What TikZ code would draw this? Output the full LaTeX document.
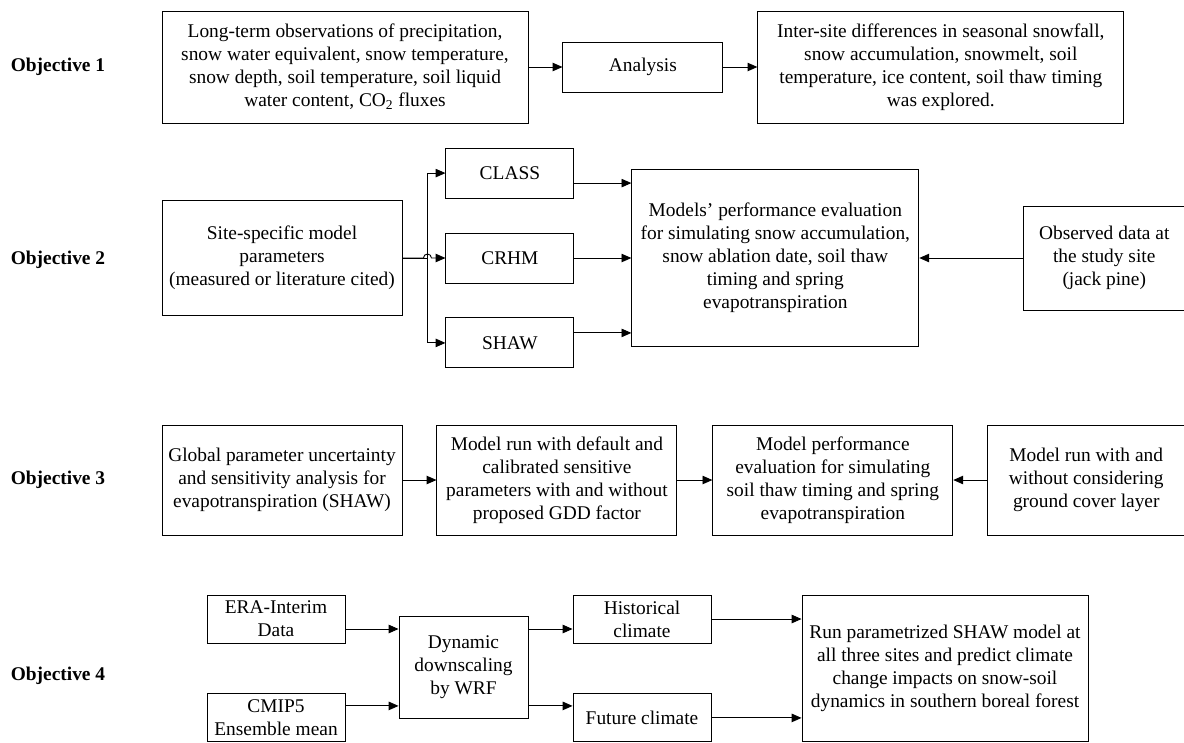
\documentclass[tikz,border=0pt]{standalone}
\usepackage{fontspec}
\setmainfont{Liberation Serif}
\usetikzlibrary{positioning,arrows.meta}

\begin{document}
\begin{tikzpicture}[box/.style = {draw, align=center, inner sep=0pt, line width=0.65pt}, lab/.style = {font=\fontsize{13.8}{16.4}\selectfont\bfseries}, arr/.style = {-{Triangle[length=7pt, width=6pt]}, line width=0.65pt}, node distance={8.5mm}, font=\fontsize{13.8}{16.4}\selectfont]
        \useasboundingbox (0,0) rectangle (29.6,-18.55);

        \node[lab] (o1) at (1.45,-1.675) {Objective 1};
        \node[box, minimum width=9.15cm, minimum height=2.8cm] (obs) at (8.625,-1.675) {Long-term observations of precipitation,\\snow water equivalent, snow temperature,\\snow depth, soil temperature, soil liquid\\water content, CO\textsubscript{2} fluxes};
        \node[box, minimum width=4cm, minimum height=1.25cm] (ana) [right=of obs] {Analysis};
        \node[box, minimum width=9.15cm, minimum height=2.8cm] (dif) [right=of ana] {Inter-site differences in seasonal snowfall,\\snow accumulation, snowmelt, soil\\temperature, ice content, soil thaw timing\\was explored.};

        \node[lab] (o2) at (1.45,-6.5) {Objective 2};
        \node[box, minimum width=6cm, minimum height=2.875cm] (site) at (7.05,-6.45) {Site-specific model\\parameters\\(measured or literature cited)};
        \node[box, minimum width=3.2cm, minimum height=1.25cm] (crhm) [right=1.075cm of site] {CRHM};
        \node[box, minimum width=3.2cm, minimum height=1.25cm] (class) [above=of crhm] {CLASS};
        \node[box, minimum width=3.2cm, minimum height=1.25cm] (shaw) [below=of crhm] {SHAW};
        \node[box, minimum width=7.175cm, minimum height=4.425cm] (eval) [right=1.425cm of crhm] {Models' performance evaluation\\for simulating snow accumulation,\\snow ablation date, soil thaw\\timing and spring\\evapotranspiration};
        \node[box, minimum width=4.025cm, minimum height=2.6cm] (field) [right=2.6cm of eval] {Observed data at\\the study site\\(jack pine)};

        \node[lab] (o3) at (1.45,-12) {Objective 3};
        \node[box, minimum width=6cm, minimum height=2.75cm] (gsa) at (7.05,-12) {Global parameter uncertainty\\and sensitivity analysis for\\evapotranspiration (SHAW)};
        \node[box, minimum width=6cm, minimum height=2.75cm] (runs) [right=of gsa] {Model run with default and\\calibrated sensitive\\parameters with and without\\proposed GDD factor};
        \node[box, minimum width=6cm, minimum height=2.75cm] (perf) [right=8.75mm of runs] {Model performance\\evaluation for simulating\\soil thaw timing and spring\\evapotranspiration};
        \node[box, minimum width=4.925cm, minimum height=2.75cm] (cover) [right=of perf] {Model run with and\\without considering\\ground cover layer};

        \node[lab] (o4) at (1.45,-16.9) {Objective 4};
        \node[box, minimum width=3.45cm, minimum height=1.2cm] (era) at (6.9,-15.475) {ERA-Interim\\Data};
        \node[box, minimum width=3.45cm, minimum height=1.2cm] (cmip) [below=1.25cm of era] {CMIP5\\Ensemble mean};
        \node[box, minimum width=3.225cm, minimum height=2.55cm] (wrf) at (11.5875,-16.675) {Dynamic\\downscaling\\by WRF};
        \node[box, minimum width=3.45cm, minimum height=1.2cm] (hist) at (16.05,-15.475) {Historical\\climate};
        \node[box, minimum width=3.45cm, minimum height=1.2cm] (fut) [below=1.25cm of hist] {Future climate};
        \node[box, minimum width=7.15cm, minimum height=3.65cm] (shawrun) at (23.625,-16.7) {Run parametrized SHAW model at\\all three sites and predict climate\\change impacts on snow-soil\\dynamics in southern boreal forest};

        \draw[arr] (obs) -- (ana);
        \draw[arr] (ana) -- (dif);

        \draw[arr] (site.east) -- ++(0.625,0) |- (class.west);
        \draw[arr] (site.east) -- ++(0.625,0) |- (shaw.west);
        \draw[arr] (site.east) -- ++(0.525,0) arc[start angle=180, end angle=0, radius=0.1] -- (crhm.west);
        \draw[arr] ([yshift=-0.25cm]class.east) -- ([yshift=-0.25cm]class.east -| eval.west);
        \draw[arr] (crhm) -- (eval);
        \draw[arr] ([yshift=0.25cm]shaw.east) -- ([yshift=0.25cm]shaw.east -| eval.west);
        \draw[arr] (field) -- (eval);

        \draw[arr] (gsa) -- (runs);
        \draw[arr] (runs) -- (perf);
        \draw[arr] (cover) -- (perf);

        \draw[arr] ([yshift=-0.25cm]era.east) -- ([yshift=-0.25cm]era.east -| wrf.west);
        \draw[arr] ([yshift=0.3cm]cmip.east) -- ([yshift=0.3cm]cmip.east -| wrf.west);
        \draw[arr] ([yshift=-0.25cm]hist.west -| wrf.east) -- ([yshift=-0.25cm]hist.west);
        \draw[arr] ([yshift=0.3cm]fut.west -| wrf.east) -- ([yshift=0.3cm]fut.west);
        \draw[arr] (hist.east) -- (hist.east -| shawrun.west);
        \draw[arr] (fut.east) -- (fut.east -| shawrun.west);
    \end{tikzpicture}
\end{document}
